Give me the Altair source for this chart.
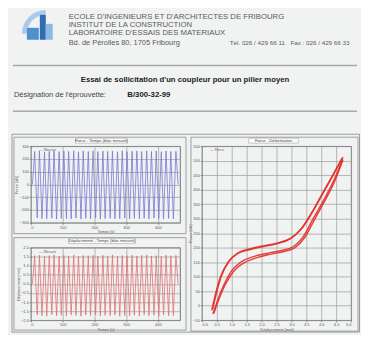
import altair as alt
import pandas as pd

FONT = "Liberation Sans"
BG = "#f1f3f3"

# ---------------- text content ----------------
header_lines = [
    "ECOLE D'INGENIEURS ET D'ARCHITECTES DE FRIBOURG",
    "INSTITUT DE LA CONSTRUCTION",
    "LABORATOIRE D'ESSAIS DES MATERIAUX",
]
address = "Bd. de Pérolles 80, 1705 Fribourg"
phone = "Tél. 026 / 429 66 11"
fax = "Fax : 026 / 429 66 33"
test_title = "Essai de sollicitation d'un coupleur pour un pilier moyen"
designation_label = "Désignation de l'éprouvette:"
designation_value = "B/300-32-99"
panel_titles = ["Force - Temps (bloc mesuré)", "Déplacement - Temps (bloc mesuré)", "Force - Déformation"]
legend_texts = ["— Mesure", "— Mesure", "— Force"]

# ---------------- data: time signals ----------------
times = [5, 12, 20, 27, 35, 43, 50, 58, 66, 73,
         81, 89, 96, 104, 112, 119, 127, 135, 142, 150,
         158, 165, 173, 181, 188, 196, 204, 211, 219, 227,
         234, 242, 250, 257, 265, 273, 280, 288, 296, 303,
         311, 319, 326, 334, 342, 349, 357, 365, 372, 380,
         388, 395, 403, 411, 418, 426, 434, 441, 449, 457,
         464]
force = [0, 258, -262, 262, -268, 255, -270, 260, -265, 263,
         -272, 257, -266, 261, -268, 259, -270, 264, -263, 256,
         -271, 262, -266, 258, -269, 263, -264, 257, -272, 261,
         -267, 259, -265, 262, -270, 256, -268, 263, -264, 258,
         -271, 260, -266, 262, -269, 257, -265, 264, -270, 259,
         -263, 261, -268, 256, -272, 262, -266, 258, -269, 260,
         0]
displacement = [0, 1.55, -1.72, 1.58, -1.75, 1.52, -1.78, 1.56, -1.70, 1.60,
                -1.76, 1.53, -1.73, 1.57, -1.77, 1.54, -1.71, 1.59, -1.74, 1.52,
                -1.78, 1.56, -1.72, 1.55, -1.76, 1.58, -1.70, 1.53, -1.77, 1.57,
                -1.73, 1.54, -1.75, 1.60, -1.71, 1.52, -1.78, 1.56, -1.74, 1.55,
                -1.76, 1.58, -1.72, 1.53, -1.77, 1.57, -1.70, 1.59, -1.75, 1.54,
                -1.73, 1.56, -1.78, 1.52, -1.71, 1.58, -1.76, 1.55, -1.74, 1.57,
                0]

# ---------------- data: force-deformation loops ----------------
load1_x = [0.37, 0.53, 0.73, 1.00, 1.33, 1.73, 2.17, 2.67, 3.07, 3.40, 3.73, 4.07, 4.40, 4.70]
load1_y = [-29, 19, 70, 121, 152, 169, 180, 190, 204, 238, 300, 361, 427, 499]
unl1_x = [4.70, 4.37, 4.03, 3.70, 3.33, 2.97, 2.53, 2.07, 1.60, 1.20, 0.87, 0.63, 0.47, 0.33]
unl1_y = [509, 447, 385, 324, 265, 231, 214, 204, 193, 180, 149, 101, 46, -16]
load2_x = [0.40, 0.57, 0.78, 1.06, 1.40, 1.80, 2.23, 2.72, 3.12, 3.44, 3.77, 4.10, 4.43, 4.73]
load2_y = [-26, 22, 72, 118, 147, 164, 176, 186, 200, 234, 296, 358, 424, 504]
unl2_x = [4.73, 4.40, 4.06, 3.73, 3.36, 3.00, 2.57, 2.10, 1.63, 1.23, 0.90, 0.66, 0.50, 0.36]
unl2_y = [512, 450, 388, 327, 268, 234, 217, 207, 196, 183, 152, 104, 49, -13]

tl_x_ticks = [0, 100, 200, 300, 400]
tl_y_ticks = [-300, -200, -100, 0, 100, 200, 300]
bl_y_ticks = [-2.0, -1.5, -1.0, -0.5, 0.0, 0.5, 1.0, 1.5, 2.0]
r_x_ticks = [0.0, 0.5, 1.0, 1.5, 2.0, 2.5, 3.0, 3.5, 4.0, 4.5, 5.0]
r_y_ticks = [-50, 0, 50, 100, 150, 200, 250, 300, 350, 400, 450, 500, 550]

one = alt.Data(values=[{}])


def txt(s, x, y, size=7.5, bold=False, align="left", color="#5a5a5a"):
    return alt.Chart(one).mark_text(
        text=s, align=align, baseline="middle", fontSize=size, font=FONT,
        fontWeight="bold" if bold else "normal", color=color
    ).encode(x=alt.value(x), y=alt.value(y))


def hrule(x1, x2, y, color="#a8a8a8", w=1.5):
    return alt.Chart(one).mark_rule(color=color, strokeWidth=w).encode(
        x=alt.value(x1), x2=alt.value(x2), y=alt.value(y))


def box(x1, x2, y1, y2, stroke="#999", w=0.8, fill=None):
    kw = dict(stroke=stroke, strokeWidth=w)
    if fill:
        kw["fill"] = fill
    else:
        kw["fillOpacity"] = 0
    return alt.Chart(one).mark_rect(**kw).encode(
        x=alt.value(x1), x2=alt.value(x2), y=alt.value(y1), y2=alt.value(y2))


def rect(x1, x2, y1, y2, color):
    return alt.Chart(one).mark_rect(fill=color).encode(
        x=alt.value(x1), x2=alt.value(x2), y=alt.value(y1), y2=alt.value(y2))


# ---------------- header ----------------
header = alt.layer(
    rect(-22, 331, 0, 325, BG),
    alt.Chart(one).mark_arc(innerRadius=19, outerRadius=24, theta=4.71, theta2=6.28,
                            fill="#a9cbe8").encode(x=alt.value(15), y=alt.value(24)),
    rect(-4, 8, 18, 30, "#4f8fd0"),
    rect(9, 15, 5, 30, "#2e6db4"),
    rect(15, 22, 14, 30, "#8db8e3"),
    txt(header_lines[0], 38, 7, size=7.8),
    txt(header_lines[1], 38, 15, size=7.8),
    txt(header_lines[2], 38, 23, size=7.8),
    txt(address, 38, 33, size=7.5),
    txt(phone, 200, 33, size=6.3),
    txt(fax, 261, 33, size=6.3),
    hrule(-18, 328, 56),
    txt(test_title, 155, 70, size=7.8, bold=True, align="center", color="#222"),
    txt(designation_label, -17, 86, size=7.5, color="#444"),
    txt(designation_value, 97, 86, size=7.8, bold=True, color="#222"),
    hrule(-18, 328, 102),
    box(-19, 330.5, 125, 324, stroke="#9a9a9a", w=1),
).properties(width=300, height=137, view=alt.ViewBackground(stroke="transparent"))


def decor(fx1, fx2, fy1, fy2, bx1, bx2, by1, by2, title, legend):
    return [
        box(fx1, fx2, fy1, fy2, stroke="#8a8a8a", w=0.8),
        box(bx1, bx2, by1, by2, stroke="#999", w=0.5, fill="#fbfbfb"),
        txt(title, (bx1 + bx2) / 2, (by1 + by2) / 2, size=4.2, align="center", color="#444"),
        txt(legend, 8, 4, size=3.8, color="#666"),
    ]


axis_common = dict(grid=True, labelFontSize=4, titleFontSize=4, tickSize=1.5,
                   labelPadding=1, titlePadding=0.5)

# ---------------- top-left ----------------
tl_df = pd.DataFrame({"t": times, "f": force})
tl_line = alt.Chart(tl_df).mark_line(color="#7878d0", strokeWidth=0.8, clip=True).encode(
    x=alt.X("t:Q", scale=alt.Scale(domain=[0, 470], nice=False),
            axis=alt.Axis(values=tl_x_ticks, title="Temps [s]", **axis_common)),
    y=alt.Y("f:Q", scale=alt.Scale(domain=[-300, 300], nice=False),
            axis=alt.Axis(values=tl_y_ticks, title="Force [kN]", **axis_common)),
)
tl = alt.layer(tl_line, *decor(-17, 156, -9, 88, 45, 97, -8, -3,
                                panel_titles[0], legend_texts[0])).properties(width=150, height=77)

# ---------------- bottom-left ----------------
bl_df = pd.DataFrame({"t": times, "d": displacement})
bl_line = alt.Chart(bl_df).mark_line(color="#e07070", strokeWidth=0.8, clip=True).encode(
    x=alt.X("t:Q", scale=alt.Scale(domain=[0, 470], nice=False),
            axis=alt.Axis(values=tl_x_ticks, title="Temps [s]", **axis_common)),
    y=alt.Y("d:Q", scale=alt.Scale(domain=[-2, 2], nice=False),
            axis=alt.Axis(values=bl_y_ticks, title="Déplacement [mm]", format=".1f", **axis_common)),
)
bl = alt.layer(bl_line, *decor(-17, 156, -10, 83, 38, 105, -9, -4,
                                panel_titles[1], legend_texts[1])).properties(width=150, height=73)

# ---------------- right ----------------
rows = []
for name, xs, ys in [("c1", load1_x, load1_y), ("c2", unl1_x, unl1_y),
                     ("c3", load2_x, load2_y), ("c4", unl2_x, unl2_y)]:
    for i, (a, b) in enumerate(zip(xs, ys)):
        rows.append({"branch": name, "i": i, "x": a, "y": b})
r_df = pd.DataFrame(rows)
r_line = alt.Chart(r_df).mark_line(color="#e2302a", strokeWidth=1.5, opacity=0.9,
                                   interpolate="monotone", clip=True).encode(
    x=alt.X("x:Q", scale=alt.Scale(domain=[0, 5], nice=False),
            axis=alt.Axis(values=r_x_ticks, title="Déplacement [mm]", format=".1f", **axis_common)),
    y=alt.Y("y:Q", scale=alt.Scale(domain=[-50, 550], nice=False),
            axis=alt.Axis(values=r_y_ticks, title="Force [kN]", **axis_common)),
    detail="branch:N",
    order="i:Q",
)
r = alt.layer(r_line, *decor(-11, 157, -9, 186, 47, 97, -8, -3,
                              panel_titles[2], legend_texts[2])).properties(width=150, height=175)

left = alt.vconcat(tl, bl, spacing=25, bounds="flush")
row = alt.hconcat(left, r, spacing=0, bounds="full")
chart = alt.vconcat(header, row, spacing=0, bounds="flush").properties(
    padding=0, background=BG
).configure_view(stroke="#555", strokeWidth=0.8).configure_axis(
    labelFont=FONT, titleFont=FONT, labelColor="#555", titleColor="#555",
    titleFontWeight="normal", tickColor="#777", domain=False,
    gridColor="#9a9a9a", gridWidth=0.7
)

chart.save("out.html", embed_options={"renderer": "svg", "actions": False})
